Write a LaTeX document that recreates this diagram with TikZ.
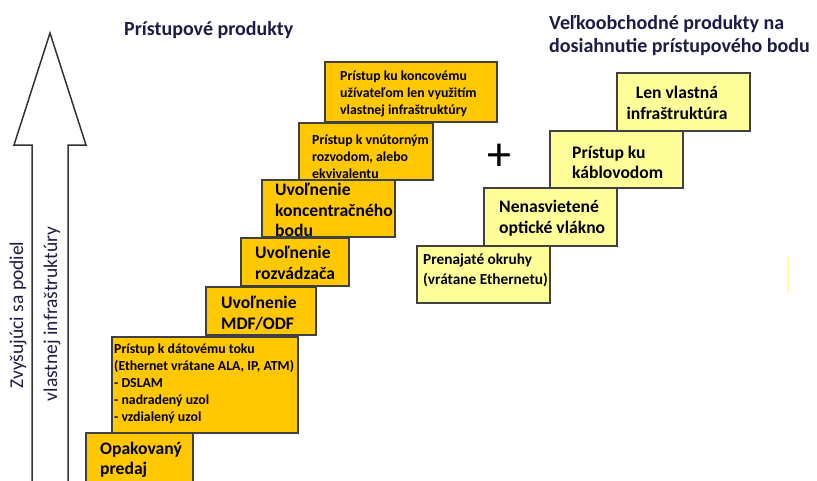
\documentclass[tikz,border=0pt]{standalone}
\usepackage{fontspec}
\setmainfont{Carlito}
\definecolor{zlta}{HTML}{FFC800}
\definecolor{svetla}{HTML}{FFFF99}
\definecolor{tmava}{HTML}{1C1C48}
\tikzset{
  stupen/.style={draw=black!75, line width=1.3pt, fill=zlta},
  stupen2/.style={draw=black!75, line width=1.3pt, fill=svetla},
  velky/.style={anchor=west, align=left, inner sep=0pt, font=\bfseries\fontsize{17.6}{20.5}\selectfont},
  maly/.style={anchor=west, align=left, inner sep=0pt, font=\bfseries\fontsize{13.8}{17}\selectfont},
  nadpis/.style={anchor=west, align=left, inner sep=0pt, text=tmava, font=\bfseries\fontsize{20}{22.5}\selectfont},
  bocny/.style={rotate=90, inner sep=0pt, text=tmava, font=\fontsize{19.5}{22}\selectfont}
}
\begin{document}
\begin{tikzpicture}[x=1pt,y=-1pt]
  \useasboundingbox (0,0) rectangle (817,480);
  \clip (0,0) rectangle (817,480);
  % sipka
  \draw[line width=1.5pt, black!80, line join=miter]
    (32,490) -- (32,145) -- (14,145) -- (50,33) -- (86,145) -- (68,145) -- (68,490);
  \node[bocny] (podiel) at (18,315) {Zvyšujúci sa podiel};
  \node[bocny] (infra) at (52,314) {vlastnej infraštruktúry};
  % nadpisy
  \node[nadpis] (pristup) at (124,30) {Prístupové produkty};
  \node[nadpis] (velkoobchod) at (549,35.5) {Veľkoobchodné produkty na\\dosiahnutie prístupového bodu};
  % pristupove produkty
  \draw[stupen] (325,62) rectangle (497,122);
  \node[maly] (koncovy) at (340,94) {Prístup ku koncovému\\užívateľom len využitím\\vlastnej infraštruktúry};
  \draw[stupen] (299,123) rectangle (433,180);
  \node[maly] (vnutorne) at (312,157) {Prístup k vnútorným\\rozvodom, alebo\\ekvivalentu};
  \draw[stupen] (262,180) rectangle (395,237);
  \node[velky] (koncentracny) at (275,210) {Uvoľnenie\\koncentračného\\bodu};
  \draw[stupen] (241,238) rectangle (349,286);
  \node[velky] (rozvadzac) at (255,263) {Uvoľnenie\\rozvádzača};
  \draw[stupen] (206,287) rectangle (316,335);
  \node[velky] (mdf) at (221,313) {Uvoľnenie\\MDF/ODF};
  \draw[stupen] (112,337) rectangle (298,433);
  \node[maly] (datovy) at (114,383.5) {Prístup k dátovému toku\\(Ethernet vrátane ALA, IP, ATM)\\- DSLAM\\- nadradený uzol\\- vzdialený uzol};
  \draw[stupen] (86,433) rectangle (193,495);
  \node[velky] (predaj) at (100,460) {Opakovaný\\predaj};
  % plus
  \node[inner sep=0pt, font=\fontsize{48}{50}\selectfont] (plus) at (499,157) {+};
  % velkoobchodne produkty
  \draw[stupen2] (617,73) rectangle (750,131);
  \node[velky, anchor=center, align=center] (vlastna) at (677,103) {Len vlastná\\infraštruktúra};
  \draw[stupen2] (550,131) rectangle (683,188);
  \node[velky] (kablovod) at (572,162.5) {Prístup ku\\káblovodom};
  \draw[stupen2] (484,188) rectangle (617,246);
  \node[velky] (vlakno) at (499,218) {Nenasvietené\\optické vlákno};
  \draw[stupen2] (417,246) rectangle (550,303);
  \node[velky, font=\bfseries\fontsize{15.3}{20}\selectfont] (okruhy) at (423,270) {Prenajaté okruhy\\(vrátane Ethernetu)};
  \draw[line width=1.5pt, svetla] (788,257) -- (788,293);
\end{tikzpicture}
\end{document}
